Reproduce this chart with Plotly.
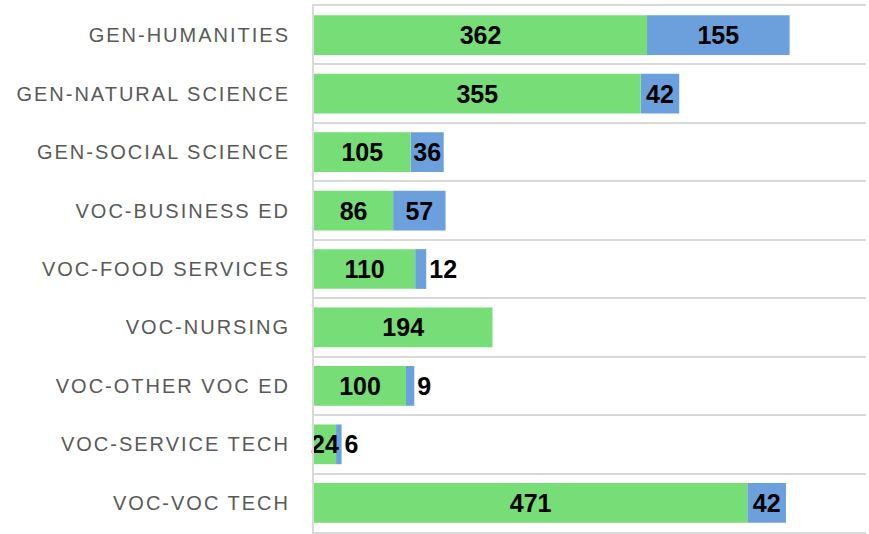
import plotly.graph_objects as go

categories = ["GEN-HUMANITIES", "GEN-NATURAL SCIENCE", "GEN-SOCIAL SCIENCE",
              "VOC-BUSINESS ED", "VOC-FOOD SERVICES", "VOC-NURSING",
              "VOC-OTHER VOC ED", "VOC-SERVICE TECH", "VOC-VOC TECH"]
green_values = [362, 355, 105, 86, 110, 194, 100, 24, 471]
blue_values = [155, 42, 36, 57, 12, 0, 9, 6, 42]
blue_positions = ["inside", "inside", "inside", "inside", "outside",
                  "inside", "outside", "outside", "inside"]

GREEN = "#77DD77"
BLUE = "#6CA0DC"
GRID = "#D9D9D9"
label_font = dict(family="Liberation Sans, Arial, sans-serif", size=25,
                  color="black", weight="bold")

fig = go.Figure()
# blue segment drawn first (stacked on top of green via base) so green labels sit above it
fig.add_trace(go.Bar(
    y=categories, x=blue_values, base=green_values, orientation="h",
    marker=dict(color=BLUE, line=dict(width=0)),
    text=[str(v) if v else "" for v in blue_values],
    textposition=blue_positions, insidetextanchor="middle",
    constraintext="none", textangle=0,
    textfont=label_font, insidetextfont=label_font, outsidetextfont=label_font,
    cliponaxis=False,
    hoverinfo="skip", showlegend=False,
))
fig.add_trace(go.Bar(
    y=categories, x=green_values, orientation="h",
    marker=dict(color=GREEN, line=dict(width=0)),
    text=[str(v) if v else "" for v in green_values],
    textposition="inside", insidetextanchor="middle",
    constraintext="none", textangle=0,
    textfont=label_font, insidetextfont=label_font,
    cliponaxis=False,
    hoverinfo="skip", showlegend=False,
))

fig.update_layout(
    barmode="overlay",
    bargap=0.32,
    width=869, height=534,
    margin=dict(l=314, r=3, t=6, b=2, pad=0),
    paper_bgcolor="white", plot_bgcolor="white",
    xaxis=dict(range=[0, 600], showgrid=False, zeroline=False,
               showticklabels=False, ticks="",
               showline=True, mirror=True, linecolor=GRID, linewidth=2,
               fixedrange=True),
    yaxis=dict(categoryorder="array", categoryarray=categories,
               range=[8.5, -0.5], tickson="boundaries",
               showgrid=True, gridcolor=GRID, gridwidth=2,
               showline=True, linecolor=GRID, linewidth=2,
               ticks="", ticklabelstandoff=18,
               tickfont=dict(family="Liberation Sans, Arial, sans-serif",
                             size=20, color="#595959"),
               zeroline=False, fixedrange=True),
)

post = """
document.body.style.margin = '0';
var gd = document.getElementById('{plot_id}');
gd.querySelectorAll('.ytick text').forEach(function (t) {
  t.style.letterSpacing = '2px';
});
"""

fig.write_html("out.html", post_script=post,
               config={"displayModeBar": False, "staticPlot": True})
